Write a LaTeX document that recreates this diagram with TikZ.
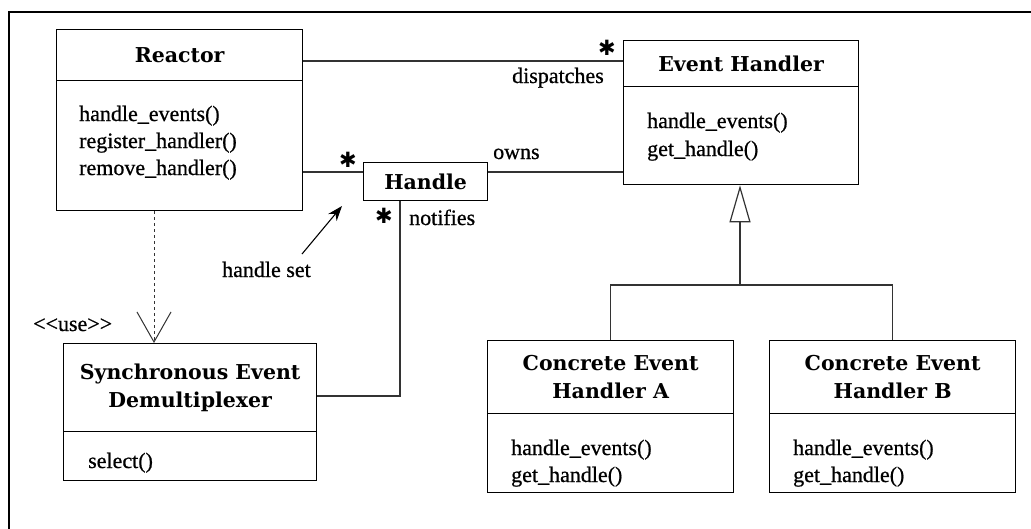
\documentclass[tikz,border=0pt]{standalone}
\usepackage{fontspec}
\setmainfont{Liberation Serif}
\newfontfamily\opfamily{Liberation Serif}[FakeBold=0.7]
\newfontfamily\titlefamily{DejaVu Serif}
\newfontfamily\symfamily{DejaVu Sans}
\usetikzlibrary{arrows.meta}

\tikzset{
  cls/.style={draw=black, line width=1.3pt, rectangle, inner sep=0pt,
              anchor=north west, align=center,
              font=\titlefamily\bfseries\fontsize{20.5}{27.5}\selectfont},
  op/.style={anchor=base west, inner sep=0pt, font=\opfamily\fontsize{22}{28}\selectfont},
  lbl/.style={inner sep=0pt, font=\opfamily\fontsize{22}{28}\selectfont},
  conn/.style={draw=black!80, line width=1.2pt},
  mult/.style={inner sep=0pt, font=\symfamily\fontsize{21}{21}\selectfont},
}

\begin{document}
\begin{tikzpicture}[x=1pt, y=-1pt]
  \useasboundingbox (0,0) rectangle (1031,528);
  \fill[white] (0,0) rectangle (1031,528);

  % outer frame (runs past the page on the right and at the bottom)
  \draw[line width=2.6pt] (9,560) -- (9,12) -- (1060,12);

  % ---- classes ----
  % Reactor
  \node[cls, minimum width=246pt, minimum height=51pt]  (rt) at (56,29) {Reactor};
  \node[cls, minimum width=246pt, minimum height=130pt] (rb) at (56,80) {};
  \node[op] (r1) at (79,121) {handle\_events()};
  \node[op] (r2) at (79,148) {register\_handler()};
  \node[op] (r3) at (79,175) {remove\_handler()};

  % Event Handler
  \node[cls, minimum width=235pt, minimum height=46pt] (eht) at (623,40) {Event Handler};
  \node[cls, minimum width=235pt, minimum height=98pt] (ehb) at (623,86) {};
  \node[op] (e1) at (647,128) {handle\_events()};
  \node[op] (e2) at (647,156) {get\_handle()};

  % Handle
  \node[cls, minimum width=124pt, minimum height=38pt] (hd) at (363,162) {Handle};

  % Synchronous Event Demultiplexer
  \node[cls, minimum width=253pt, minimum height=88pt] (sedt) at (63,343) {Synchronous Event\\Demultiplexer};
  \node[cls, minimum width=253pt, minimum height=49pt] (sedb) at (63,431) {};
  \node[op] (s1) at (88,468) {select()};

  % Concrete Event Handler A
  \node[cls, minimum width=246pt, minimum height=73pt] (cat) at (487,340) {Concrete Event\\Handler A};
  \node[cls, minimum width=246pt, minimum height=79pt] (cab) at (487,413) {};
  \node[op] (a1) at (511,455) {handle\_events()};
  \node[op] (a2) at (511,482) {get\_handle()};

  % Concrete Event Handler B
  \node[cls, minimum width=246pt, minimum height=73pt] (cbt) at (769,340) {Concrete Event\\Handler B};
  \node[cls, minimum width=246pt, minimum height=79pt] (cbb) at (769,413) {};
  \node[op] (b1) at (793,455) {handle\_events()};
  \node[op] (b2) at (793,482) {get\_handle()};

  % ---- connector levels ----
  \coordinate (dy) at (0,61);
  \coordinate (oy) at (0,172);
  \coordinate (nx) at (400,396);
  \coordinate (ux) at (154,0);
  \coordinate (jn) at (740,285);
  \coordinate (hsfrom) at (302,254);
  \coordinate (hsto) at (342,206);

  % Reactor dispatches Event Handler
  \draw[conn] (rt.east |- dy) -- (eht.west |- dy);
  \node[mult] (m1) at (607,48) {✱};
  \node[lbl, anchor=base east] (ldisp) at (604,83) {dispatches};

  % Reactor -- Handle
  \draw[conn] (rb.east |- oy) -- (hd.west |- oy);
  \node[mult] (m2) at (348,160) {✱};

  % Event Handler owns Handle
  \draw[conn] (hd.east |- oy) -- (ehb.west |- oy);
  \node[lbl, anchor=base west] (lown) at (493,159) {owns};

  % Handle notifies Synchronous Event Demultiplexer
  \draw[conn] (hd.south -| nx) -- (nx) -- (sedt.east |- nx);
  \node[mult] (m3) at (384,216) {✱};
  \node[lbl, anchor=base west] (lnot) at (409,225) {notifies};

  % handle set pointer
  \node[lbl, anchor=base west] (lhs) at (222,277) {handle set};
  \draw[line width=1.1pt, -{Stealth[length=15pt,width=11pt]}] (hsfrom) -- (hsto);

  % <<use>> dependency
  \draw[conn, line width=1pt, dash pattern=on 3pt off 3pt,
        -{Straight Barb[length=30pt,width=34pt,line width=1pt]}]
        (rb.south -| ux) -- (sedt.north -| ux);
  \node[lbl, anchor=base west] (luse) at (33,331) {<{}<use>{}>};

  % generalization
  \draw[conn, -{Triangle[open,length=37pt,width=21pt,line width=1.2pt]}] (jn) -- (ehb.south -| jn);
  \draw[conn] (cat.north) |- (jn) -| (cbt.north);
\end{tikzpicture}
\end{document}
